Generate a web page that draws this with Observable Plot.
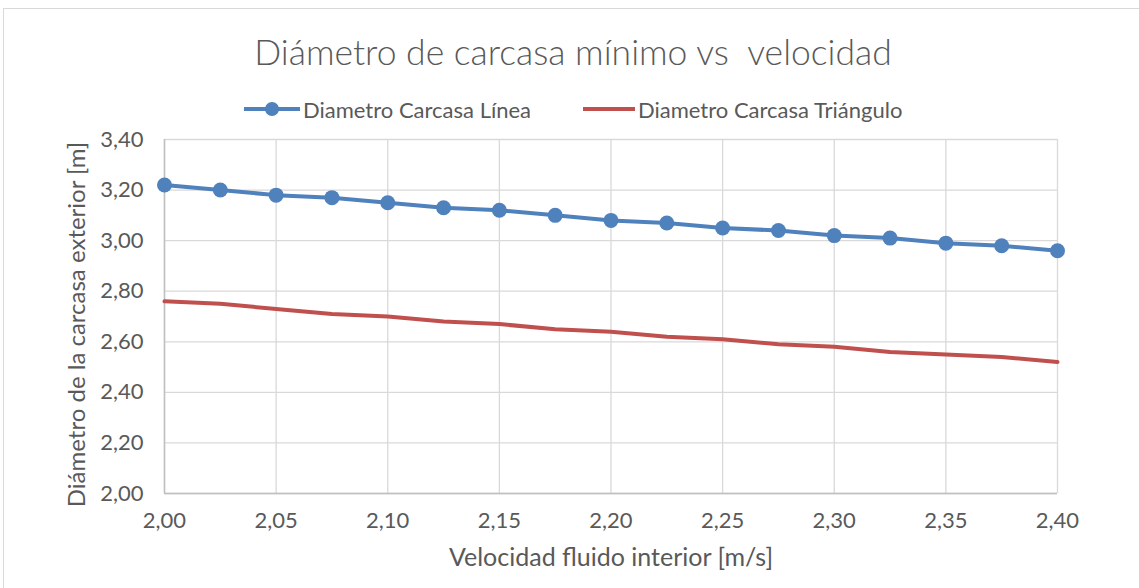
<!DOCTYPE html>
<html>
<head>
<meta charset="utf-8">
<script src="https://cdn.jsdelivr.net/npm/d3@7"></script>
<script src="https://cdn.jsdelivr.net/npm/@observablehq/plot@0.6"></script>
<style>
  html, body { margin: 0; padding: 0; background: #fff; }
  #frame { position: absolute; left: 3px; top: 8px; width: 1140px; height: 584px; border: 1px solid #d9d9d9; box-sizing: border-box; }
  #wrap { position: absolute; left: 0; top: 0; width: 1139px; height: 588px; font-family: Lato, "Open Sans", sans-serif; color: #595959; }
  #title { position: absolute; left: 0; width: 1146px; top: 30px; line-height: 44px; text-align: center; font-size: 35.5px; font-weight: 300; color: #595959; white-space: pre; }
  #legend { position: absolute; top: 96px; left: 0; width: 1139px; height: 26px; font-size: 22px; color: #595959; }
  .li { position: absolute; top: 0; display: flex; align-items: center; height: 26px; }
  #chart { position: absolute; left: 0; top: 125px; }
</style>
</head>
<body>
<div id="frame"></div>
<div id="wrap">
  <div id="title">Diámetro de carcasa mínimo vs  velocidad</div>
  <div id="legend"></div>
  <div id="chart"></div>
</div>
<script>
const velocidad = [2.000, 2.025, 2.050, 2.075, 2.100, 2.125, 2.150, 2.175, 2.200, 2.225, 2.250, 2.275, 2.300, 2.325, 2.350, 2.375, 2.400];
const diametroLinea = [3.22, 3.20, 3.18, 3.17, 3.15, 3.13, 3.12, 3.10, 3.08, 3.07, 3.05, 3.04, 3.02, 3.01, 2.99, 2.98, 2.96];
const diametroTriangulo = [2.76, 2.75, 2.73, 2.71, 2.70, 2.68, 2.67, 2.65, 2.64, 2.62, 2.61, 2.59, 2.58, 2.56, 2.55, 2.54, 2.52];
const seriesNames = ["Diametro Carcasa Línea", "Diametro Carcasa Triángulo"];
const seriesColors = ["#4f81bd", "#c0504d"];
const xTicks = [2.00, 2.05, 2.10, 2.15, 2.20, 2.25, 2.30, 2.35, 2.40];
const yTicks = [2.00, 2.20, 2.40, 2.60, 2.80, 3.00, 3.20, 3.40];
const xLabel = "Velocidad fluido interior [m/s]";
const yLabel = "Diámetro de la carcasa exterior [m]";

const linea = velocidad.map((v, i) => ({x: v, y: diametroLinea[i]}));
const triangulo = velocidad.map((v, i) => ({x: v, y: diametroTriangulo[i]}));
const fmt = d => d.toFixed(2).replace(".", ",");

// legend
const legend = document.getElementById("legend");
const legendPos = [244, 583];
seriesNames.forEach((name, i) => {
  const item = document.createElement("div");
  item.className = "li";
  item.style.left = legendPos[i] + "px";
  const marker = i === 0
    ? `<svg width="58" height="26"><line x1="0" y1="13" x2="56" y2="13" stroke="${seriesColors[i]}" stroke-width="4"/><circle cx="28" cy="13" r="7" fill="${seriesColors[i]}"/></svg>`
    : `<svg width="54" height="26"><line x1="0" y1="13" x2="52" y2="13" stroke="${seriesColors[i]}" stroke-width="4"/></svg>`;
  item.innerHTML = marker + `<span style="margin-left:1px">${name}</span>`;
  legend.appendChild(item);
});

const plot = Plot.plot({
  width: 1139,
  height: 463,
  marginLeft: 164,
  marginRight: 82,
  marginTop: 14,
  marginBottom: 95,
  style: { fontFamily: "Lato, 'Open Sans', sans-serif", fontSize: "22px", color: "#595959", background: "transparent", overflow: "visible" },
  x: { domain: [2.0, 2.4], label: null },
  y: { domain: [2.0, 3.4], label: null },
  marks: [
    Plot.gridX(xTicks, { stroke: "#d9d9d9", strokeOpacity: 1, strokeWidth: 1.3 }),
    Plot.gridY(yTicks, { stroke: "#d9d9d9", strokeOpacity: 1, strokeWidth: 1.3 }),
    Plot.ruleX([2.0], { stroke: "#bfbfbf", strokeWidth: 1.5 }),
    Plot.ruleY([2.0], { stroke: "#bfbfbf", strokeWidth: 1.5 }),
    Plot.axisX(xTicks, { tickFormat: fmt, tickSize: 0, tickPadding: 19, fontSize: 22, fill: "#595959", label: null }),
    Plot.axisY(yTicks, { tickFormat: fmt, tickSize: 0, tickPadding: 21, fontSize: 22, fill: "#595959", label: null }),
    Plot.line(triangulo, { x: "x", y: "y", stroke: seriesColors[1], strokeWidth: 4 }),
    Plot.line(linea, { x: "x", y: "y", stroke: seriesColors[0], strokeWidth: 4 }),
    Plot.dot(linea, { x: "x", y: "y", r: 7.5, fill: seriesColors[0], stroke: "none" }),
    Plot.text([xLabel], { frameAnchor: "bottom", textAnchor: "middle", dy: 72, fontSize: 25, fill: "#595959" }),
    Plot.text([yLabel], { frameAnchor: "left", textAnchor: "middle", dx: -87, dy: 8, rotate: -90, fontSize: 24, fill: "#595959" })
  ]
});
document.getElementById("chart").appendChild(plot);
</script>
</body>
</html>
